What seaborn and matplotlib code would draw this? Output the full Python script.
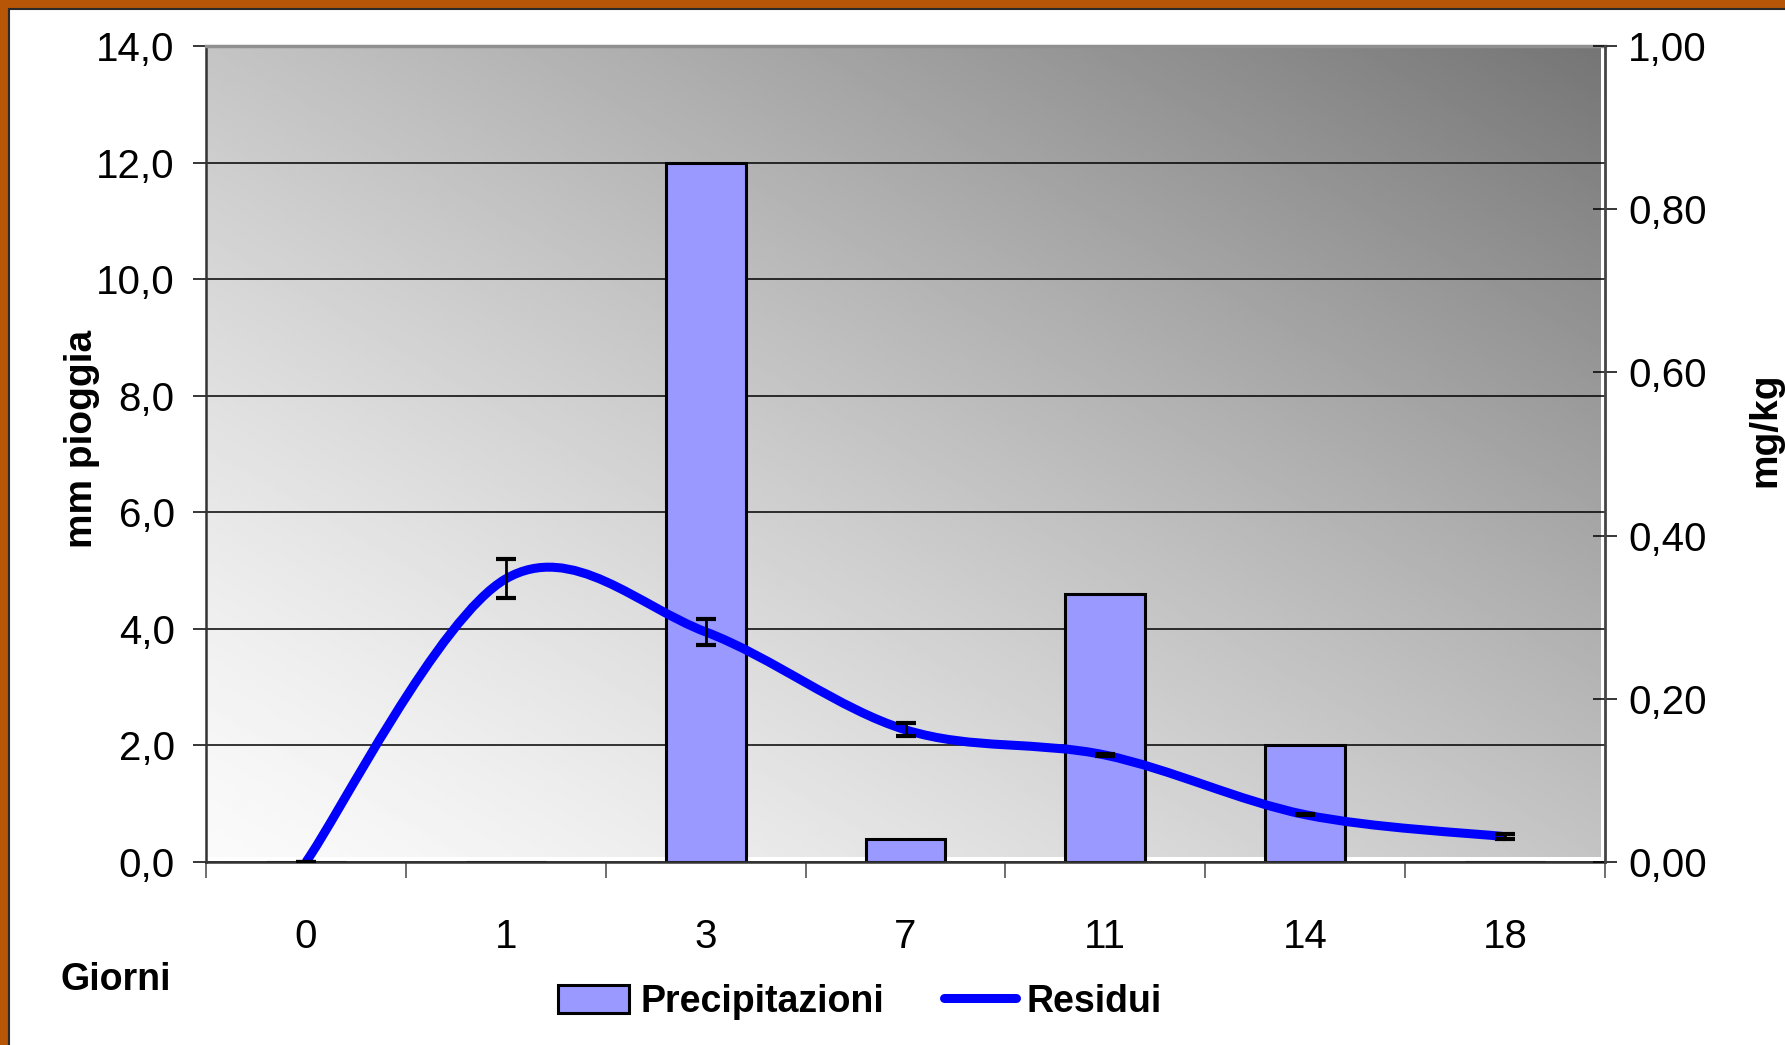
import numpy as np
import pandas as pd
import seaborn as sns
import matplotlib.pyplot as plt
from matplotlib.path import Path
from matplotlib.patches import PathPatch, Patch, Rectangle
from matplotlib.lines import Line2D

# data
giorni = ["0", "1", "3", "7", "11", "14", "18"]
precipitazioni = [0.0, 0.0, 12.0, 0.4, 4.6, 2.0, 0.0]      # mm pioggia (left axis)
residui = [0.0, 0.347, 0.282, 0.162, 0.131, 0.058, 0.031]  # mg/kg (right axis)
residui_err = [0.0, 0.024, 0.016, 0.008, 0.001, 0.001, 0.003]
left_ticks = [0, 2, 4, 6, 8, 10, 12, 14]
right_ticks = [0.0, 0.2, 0.4, 0.6, 0.8, 1.0]

BAR_COLOR = "#9999FF"
LINE_COLOR = "#0000FF"
FRAME_COLOR = "#B65606"

sns.set_theme(style="white")
plt.rcParams["font.family"] = ["Liberation Sans", "DejaVu Sans"]
plt.rcParams["text.color"] = "black"
plt.rcParams["xtick.color"] = "black"
plt.rcParams["ytick.color"] = "black"


def smooth_path(xs, ys):
    """Excel-like smoothed line: cubic Bezier through every point."""
    pts = np.column_stack([xs, ys]).astype(float)
    n = len(pts)
    verts = [pts[0]]
    codes = [Path.MOVETO]
    for i in range(n - 1):
        p_prev = pts[max(i - 1, 0)]
        p0, p1 = pts[i], pts[i + 1]
        p_next = pts[min(i + 2, n - 1)]
        c1 = p0 + (p1 - p_prev) / 6.0
        c2 = p1 - (p_next - p0) / 6.0
        verts += [c1, c2, p1]
        codes += [Path.CURVE4] * 3
    return Path(verts, codes)


fig = plt.figure(figsize=(17.85, 10.45), dpi=100, facecolor=FRAME_COLOR)
fig.patches.append(Rectangle((9 / 1785, -0.02), 1.05, 1 - 9 / 1045 + 0.02,
                             transform=fig.transFigure, facecolor="white",
                             edgecolor="#2a2a2a", linewidth=1.5, zorder=-5))

ax = fig.add_axes([206 / 1785, (1045 - 862) / 1045, (1605 - 206) / 1785, (862 - 46) / 1045])
ax.patch.set_alpha(0)

# gradient background of the plot area (white bottom-left -> dark grey top-right)
u = np.linspace(0, 1, 300)
U, V = np.meshgrid(u, u)
grad = 0.98 - 0.52 * ((U + V) / 2) ** 1.3
ax.imshow(grad, cmap="gray", vmin=0, vmax=1, origin="lower", aspect="auto",
          extent=(0, 0.997, 0.006, 1.0), transform=ax.transAxes, zorder=0)

df = pd.DataFrame({"giorni": giorni, "precipitazioni": precipitazioni})
sns.barplot(data=df, x="giorni", y="precipitazioni", order=giorni, ax=ax,
            color=BAR_COLOR, saturation=1, width=0.4, edgecolor="black",
            linewidth=2.2, zorder=2)

ax.set_xlim(-0.5, len(giorni) - 0.5)
ax.set_ylim(0, 14)
ax.set_yticks(left_ticks)
ax.set_yticklabels([f"{v:.1f}".replace(".", ",") for v in left_ticks])
ax.set_xticks(range(len(giorni)))
ax.set_xticklabels(giorni)
ax.set_xticks(np.arange(-0.5, len(giorni), 1.0), minor=True)
ax.set_xlabel("")
ax.set_ylabel("")
ax.set_axisbelow(True)
ax.yaxis.grid(True, color="black", linewidth=1.1)
ax.xaxis.grid(False)

ax.tick_params(axis="y", which="major", direction="out", length=9.5, width=1.1,
               color="black", labelsize=29, pad=13, left=True)
ax.tick_params(axis="x", which="major", length=0, labelsize=29, pad=40)
ax.tick_params(axis="x", which="minor", direction="out", length=11.5, width=1.2,
               color="#555555", bottom=True)

for side in ["left", "bottom"]:
    ax.spines[side].set_color("#333333")
    ax.spines[side].set_linewidth(1.8)
ax.spines["top"].set_color("#909090")
ax.spines["top"].set_linewidth(2.5)
ax.spines["right"].set_visible(False)

# right axis: residues
ax2 = ax.twinx()
ax2.set_ylim(0, 1.0)
ax2.set_yticks(right_ticks)
ax2.set_yticklabels([f"{v:.2f}".replace(".", ",") for v in right_ticks])
ax2.tick_params(axis="y", direction="inout", length=17, width=1.1, color="black",
                labelsize=29, pad=8, right=True)
ax2.grid(False)
for side in ["left", "top", "bottom"]:
    ax2.spines[side].set_visible(False)
ax2.spines["right"].set_color("#444444")
ax2.spines["right"].set_linewidth(2)

xs = np.arange(len(giorni))
ax2.add_patch(PathPatch(smooth_path(xs, residui), facecolor="none",
                        edgecolor=LINE_COLOR, linewidth=6.5, zorder=3,
                        capstyle="butt", joinstyle="round"))
ax2.errorbar(xs, residui, yerr=residui_err, fmt="none", ecolor="black",
             elinewidth=2, capsize=7, capthick=3, zorder=4)

fig.text(82 / 1785, 1 - 439 / 1045, "mm pioggia", rotation=90, ha="center",
         va="center", fontsize=28, fontweight="bold")
fig.text(1747 / 1785, 1 - 430 / 1045, "mg/kg", rotation=90, ha="left",
         va="center", fontsize=28, fontweight="bold")
fig.text(60 / 1785, 1 - 990 / 1045, "Giorni", ha="left", va="baseline",
         fontsize=27, fontweight="bold")

handles = [Patch(facecolor=BAR_COLOR, edgecolor="black", linewidth=2.2),
           Line2D([], [], color=LINE_COLOR, linewidth=6.5)]
fig.legend(handles, ["Precipitazioni", "Residui"], loc="center",
           bbox_to_anchor=(860 / 1785, 1 - 1002 / 1045), ncol=2, frameon=False,
           prop={"size": 27, "weight": "bold"}, handlelength=1.9,
           handleheight=0.8, handletextpad=0.3, columnspacing=1.6)

fig.savefig("out.png", dpi=100, facecolor=FRAME_COLOR)
